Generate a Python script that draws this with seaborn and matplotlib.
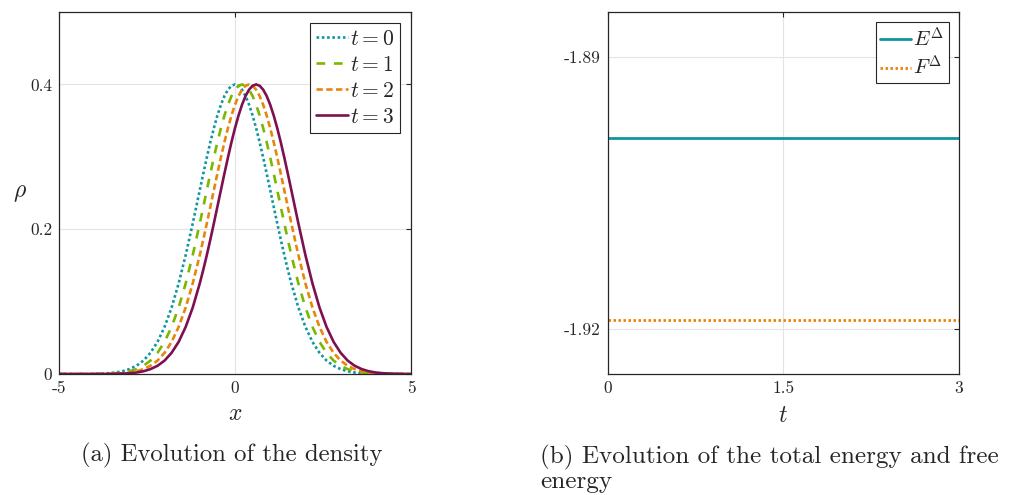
import matplotlib
matplotlib.use("Agg")
import matplotlib.pyplot as plt
import seaborn as sns
import pandas as pd

# ---- data -------------------------------------------------------------
# spatial grid: 0.2 spacing in the tails, 0.1 spacing around the peaks
x_grid = [-5.0, -4.8, -4.6, -4.4, -4.2, -4.0, -3.8, -3.6, -3.4, -3.2,
          -3.0, -2.8, -2.6, -2.4, -2.2, -2.0, -1.8, -1.6, -1.4, -1.2,
          -1.0, -0.9, -0.8, -0.7, -0.6, -0.5, -0.4, -0.3, -0.2, -0.1,
          0.0, 0.1, 0.2, 0.3, 0.4, 0.5, 0.6, 0.7, 0.8, 0.9,
          1.0, 1.1, 1.2, 1.3, 1.4, 1.5, 1.6,
          1.8, 2.0, 2.2, 2.4, 2.6, 2.8, 3.0, 3.2, 3.4, 3.6,
          3.8, 4.0, 4.2, 4.4, 4.6, 4.8, 5.0]

rho_t0 = [0, 0, 0, 0, 0.0001, 0.0003, 0.0006, 0.0011, 0.0021, 0.0038,
          0.0068, 0.0114, 0.0186, 0.0294, 0.0445, 0.0652, 0.0920, 0.1253, 0.1644, 0.2082,
          0.2542, 0.2770, 0.2992, 0.3203, 0.3397, 0.3571, 0.3720, 0.3840, 0.3928, 0.3982,
          0.4000, 0.3982, 0.3928, 0.3840, 0.3720, 0.3571, 0.3397, 0.3203, 0.2992, 0.2770,
          0.2542, 0.2311, 0.2082, 0.1859, 0.1644, 0.1442, 0.1253,
          0.0920, 0.0652, 0.0445, 0.0294, 0.0186, 0.0114, 0.0068, 0.0038, 0.0021, 0.0011,
          0.0006, 0.0003, 0.0001, 0, 0, 0, 0]
rho_t1 = [0, 0, 0, 0, 0, 0.0001, 0.0003, 0.0006, 0.0011, 0.0021,
          0.0038, 0.0068, 0.0114, 0.0186, 0.0294, 0.0445, 0.0652, 0.0920, 0.1253, 0.1644,
          0.2082, 0.2311, 0.2542, 0.2770, 0.2992, 0.3203, 0.3397, 0.3571, 0.3720, 0.3840,
          0.3928, 0.3982, 0.4000, 0.3982, 0.3928, 0.3840, 0.3720, 0.3571, 0.3397, 0.3203,
          0.2992, 0.2770, 0.2542, 0.2311, 0.2082, 0.1859, 0.1644,
          0.1253, 0.0920, 0.0652, 0.0445, 0.0294, 0.0186, 0.0114, 0.0068, 0.0038, 0.0021,
          0.0011, 0.0006, 0.0003, 0.0001, 0, 0, 0]
rho_t2 = [0, 0, 0, 0, 0, 0, 0.0001, 0.0003, 0.0006, 0.0011,
          0.0021, 0.0038, 0.0068, 0.0114, 0.0186, 0.0294, 0.0445, 0.0652, 0.0920, 0.1253,
          0.1644, 0.1859, 0.2082, 0.2311, 0.2542, 0.2770, 0.2992, 0.3203, 0.3397, 0.3571,
          0.3720, 0.3840, 0.3928, 0.3982, 0.4000, 0.3982, 0.3928, 0.3840, 0.3720, 0.3571,
          0.3397, 0.3203, 0.2992, 0.2770, 0.2542, 0.2311, 0.2082,
          0.1644, 0.1253, 0.0920, 0.0652, 0.0445, 0.0294, 0.0186, 0.0114, 0.0068, 0.0038,
          0.0021, 0.0011, 0.0006, 0.0003, 0.0001, 0, 0]
rho_t3 = [0, 0, 0, 0, 0, 0, 0, 0.0001, 0.0003, 0.0006,
          0.0011, 0.0021, 0.0038, 0.0068, 0.0114, 0.0186, 0.0294, 0.0445, 0.0652, 0.0920,
          0.1253, 0.1442, 0.1644, 0.1859, 0.2082, 0.2311, 0.2542, 0.2770, 0.2992, 0.3203,
          0.3397, 0.3571, 0.3720, 0.3840, 0.3928, 0.3982, 0.4000, 0.3982, 0.3928, 0.3840,
          0.3720, 0.3571, 0.3397, 0.3203, 0.2992, 0.2770, 0.2542,
          0.2082, 0.1644, 0.1253, 0.0920, 0.0652, 0.0445, 0.0294, 0.0186, 0.0114, 0.0068,
          0.0038, 0.0021, 0.0011, 0.0006, 0.0003, 0.0001, 0]

density_labels = [r"$t = 0$", r"$t = 1$", r"$t = 2$", r"$t = 3$"]

t_grid = [0.0, 0.5, 1.0, 1.5, 2.0, 2.5, 3.0]
energy_total = [-1.8989, -1.8989, -1.8989, -1.8989, -1.8989, -1.8989, -1.8989]
energy_free = [-1.9190, -1.9190, -1.9190, -1.9190, -1.9190, -1.9190, -1.9190]
energy_labels = [r"$E^{\Delta}$", r"$F^{\Delta}$"]

x_ticks = [-5, 0, 5]
x_ticklabels = ["-5", "0", "5"]
rho_ticks = [0, 0.2, 0.4]
rho_ticklabels = ["0", "0.2", "0.4"]
t_ticks = [0, 1.5, 3]
t_ticklabels = ["0", "1.5", "3"]
e_ticks = [-1.92, -1.89]
e_ticklabels = ["-1.92", "-1.89"]

captions = ["(a) Evolution of the density",
            "(b) Evolution of the total energy and free\nenergy"]

# ---- style ------------------------------------------------------------
sns.set_theme(style="white")
plt.rcParams.update({
    "font.family": "serif",
    "font.serif": ["cmr10", "DejaVu Serif"],
    "mathtext.fontset": "cm",
    "axes.unicode_minus": False,
    "axes.edgecolor": "#262626",
    "axes.linewidth": 0.9,
    "xtick.direction": "in",
    "ytick.direction": "in",
    "xtick.color": "#262626",
    "ytick.color": "#262626",
    "xtick.major.size": 3.5,
    "ytick.major.size": 3.5,
    "xtick.major.width": 0.8,
    "ytick.major.width": 0.8,
    "xtick.top": True,
    "ytick.right": True,
    "legend.frameon": True,
})

teal = "#0f96a3"
green = "#7ab800"
orange = "#e8860c"
purple = "#7d1050"

fig = plt.figure(figsize=(10.14, 4.95), dpi=100)
ax1 = fig.add_axes([0.0582, 0.2444, 0.3471, 0.7313])
ax2 = fig.add_axes([0.5993, 0.2444, 0.3465, 0.7313])

lw = 1.9
styles = [
    dict(color=teal, linestyle=(0, (1.0, 1.0))),
    dict(color=green, linestyle=(0, (3.3, 3.3))),
    dict(color=orange, linestyle=(0, (2.4, 1.3))),
    dict(color=purple, linestyle="-"),
]

density = pd.DataFrame({"x": x_grid, "t0": rho_t0, "t1": rho_t1,
                        "t2": rho_t2, "t3": rho_t3})
for col, lab, st in zip(["t0", "t1", "t2", "t3"], density_labels, styles):
    sns.lineplot(data=density, x="x", y=col, ax=ax1, label=lab, lw=lw,
                 sort=False, **st)

energy = pd.DataFrame({"t": t_grid, "E": energy_total, "F": energy_free})
sns.lineplot(data=energy, x="t", y="E", ax=ax2, label=energy_labels[0],
             color="#10959f", lw=2.0, linestyle="-")
sns.lineplot(data=energy, x="t", y="F", ax=ax2, label=energy_labels[1],
             color=orange, lw=2.0, linestyle=(0, (0.9, 0.9)))

# ---- axes -------------------------------------------------------------
for ax in (ax1, ax2):
    ax.grid(True, color="#e3e3e3", lw=0.8)
    ax.set_axisbelow(True)
    for sp in ax.spines.values():
        sp.set_visible(True)
        sp.set_color("#262626")
    ax.tick_params(labelsize=12.5, pad=5)

ax1.set_xlim(-5, 5)
ax1.set_ylim(0, 0.5)
ax1.set_xticks(x_ticks)
ax1.set_xticklabels(x_ticklabels)
ax1.set_yticks(rho_ticks)
ax1.set_yticklabels(rho_ticklabels)
ax1.set_xlabel(r"$x$", fontsize=17, labelpad=5)
ax1.set_ylabel(r"$\rho$", fontsize=17, rotation=0, va="center", ha="center")
ax1.yaxis.set_label_coords(-0.111, 0.5)

ax2.set_xlim(0, 3)
ax2.set_ylim(-1.925, -1.885)
ax2.set_xticks(t_ticks)
ax2.set_xticklabels(t_ticklabels)
ax2.set_yticks(e_ticks)
ax2.set_yticklabels(e_ticklabels)
ax2.set_xlabel(r"$t$", fontsize=17, labelpad=6)
ax2.set_ylabel("")

leg1 = ax1.legend(loc="upper right", fontsize=15.5, handlelength=1.45,
                  handletextpad=0.1, labelspacing=0.3, borderpad=0.3,
                  borderaxespad=0.5, fancybox=False, framealpha=1)
leg2 = ax2.legend(loc="upper right", fontsize=15, handlelength=1.5,
                  handletextpad=0.1, labelspacing=0.2, borderpad=0.2,
                  borderaxespad=0.5, fancybox=False, framealpha=1)
for leg in (leg1, leg2):
    leg.get_frame().set_edgecolor("#262626")
    leg.get_frame().set_linewidth(0.8)

fig.text(0.2283, 0.080, captions[0], ha="center", va="center", fontsize=17.8)
fig.text(0.533, 0.052, captions[1], ha="left", va="center", fontsize=18.1,
         linespacing=1.05)

fig.savefig("out.png", dpi=100)
